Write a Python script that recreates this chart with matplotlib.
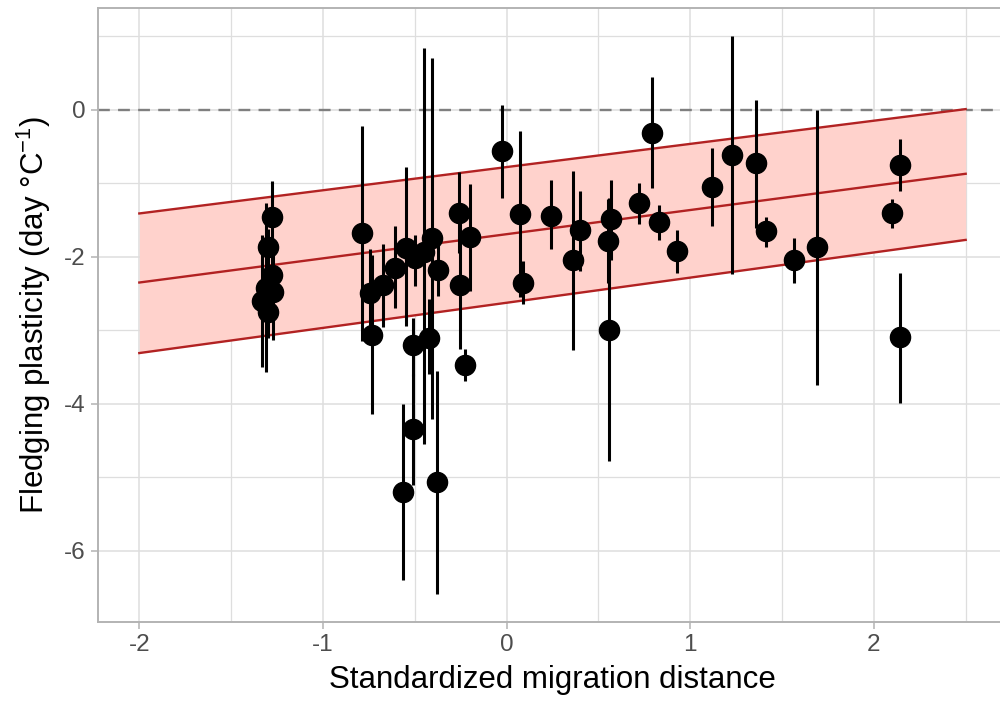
import numpy as np
import matplotlib
matplotlib.use('Agg')
import matplotlib.pyplot as plt

plt.rcParams['font.family'] = ['Liberation Sans', 'DejaVu Sans']
plt.rcParams['mathtext.fontset'] = 'custom'
plt.rcParams['mathtext.rm'] = 'Liberation Sans'
plt.rcParams['mathtext.it'] = 'Liberation Sans:italic'

# standardized migration distance, fledging plasticity and its interval
dist = [-1.28, -1.30, -1.28, -1.31, -1.27, -1.33, -1.30,
        -0.79, -0.746, -0.733, -0.674, -0.605, -0.546, -0.50, -0.45, -0.405,
        -0.374, -0.26, -0.20, -0.252, -0.51, -0.51, -0.423, -0.225, -0.565, -0.38,
        -0.023, 0.071, 0.089, 0.24, 0.361, 0.398, 0.552, 0.557, 0.566, 0.719,
        0.793, 0.83, 0.928, 1.12, 1.229, 1.36, 1.41, 1.565, 1.69, 2.10, 2.14, 2.144]
plast = [-1.46, -1.87, -2.25, -2.42, -2.48, -2.60, -2.75,
         -1.68, -2.49, -3.06, -2.39, -2.15, -1.88, -2.02, -1.93, -1.74,
         -2.18, -1.40, -1.73, -2.39, -3.20, -4.35, -3.10, -3.47, -5.20, -5.06,
         -0.56, -1.42, -2.35, -1.44, -2.05, -1.64, -1.79, -2.99, -1.49, -1.27,
         -0.32, -1.53, -1.92, -1.05, -0.62, -0.73, -1.65, -2.04, -1.87, -1.40, -0.75, -3.09]
lower = [-1.95, -2.12, -2.60, -3.57, -3.13, -3.50, -3.10,
         -3.15, -3.08, -4.14, -2.96, -2.69, -2.94, -2.40, -4.55, -4.21,
         -2.54, -1.95, -2.47, -3.26, -3.62, -5.10, -3.60, -3.69, -6.40, -6.59,
         -1.20, -2.55, -2.64, -1.90, -3.27, -2.20, -2.36, -4.78, -2.04, -1.56,
         -1.06, -1.77, -2.22, -1.58, -2.24, -1.61, -1.86, -2.35, -3.74, -1.61, -1.11, -3.99]
upper = [-0.97, -1.62, -1.90, -1.27, -1.83, -1.70, -2.40,
         -0.22, -1.90, -1.98, -1.82, -1.58, -0.78, -1.70, 0.84, 0.70,
         -1.82, -0.85, -1.01, -1.52, -2.83, -3.60, -2.58, -3.25, -4.01, -3.55,
         0.07, -0.29, -2.06, -0.96, -0.83, -1.10, -1.22, -1.20, -0.95, -0.99,
         0.45, -1.29, -1.63, -0.52, 1.00, 0.14, -1.46, -1.74, 0.00, -1.21, -0.40, -2.22]

# regression line and its band
fit_x = [-2.0, 2.5]
fit_mid = [-2.35, -0.87]
fit_lo = [-3.31, -1.77]
fit_hi = [-1.41, 0.01]

xticks = [-2, -1, 0, 1, 2]
yticks = [0, -2, -4, -6]

fig = plt.figure(figsize=(10, 7.04), dpi=100)
ax = fig.add_axes([0.098, 0.1165, 0.909, 0.8715])

ax.set_xlim(-2.225, 2.725)
ax.set_ylim(-6.97, 1.38)

ax.set_xticks(xticks)
ax.set_xticklabels([str(t) for t in xticks])
ax.set_yticks(yticks)
ax.set_yticklabels([str(t) for t in yticks])
ax.set_xticks([-1.5, -0.5, 0.5, 1.5, 2.5], minor=True)
ax.set_yticks([1, -1, -3, -5], minor=True)
ax.grid(which='major', color='#DEDEDE', lw=1.1)
ax.grid(which='minor', color='#DEDEDE', lw=0.9)
ax.set_axisbelow(True)
ax.tick_params(which='major', length=5, width=1.1, color='#B3B3B3',
               labelcolor='#4D4D4D', labelsize=17.5, pad=4)
ax.tick_params(which='minor', length=0)
for s in ax.spines.values():
    s.set_color('#B3B3B3')
    s.set_linewidth(1.4)

ax.axhline(0, color='#7F7F7F', lw=1.7, dashes=(5, 3.5), zorder=1)

ax.fill_between(fit_x, fit_lo, fit_hi, color='#FFD2CC', lw=0, zorder=1.5)
for yy in (fit_lo, fit_mid, fit_hi):
    ax.plot(fit_x, yy, color='#B22222', lw=1.7, zorder=2)

d = np.array(dist)
p = np.array(plast)
err = np.vstack([p - np.array(lower), np.array(upper) - p])
ax.errorbar(d, p, yerr=err, fmt='o', color='black', ms=14.5, elinewidth=2.2,
            capsize=0, zorder=3)

ax.set_xlabel('Standardized migration distance', fontsize=22.5, labelpad=6)
ax.set_ylabel('Fledging plasticity (day °C$^{-1}$)', fontsize=22.5, labelpad=8)

fig.savefig('out.png', dpi=100)
